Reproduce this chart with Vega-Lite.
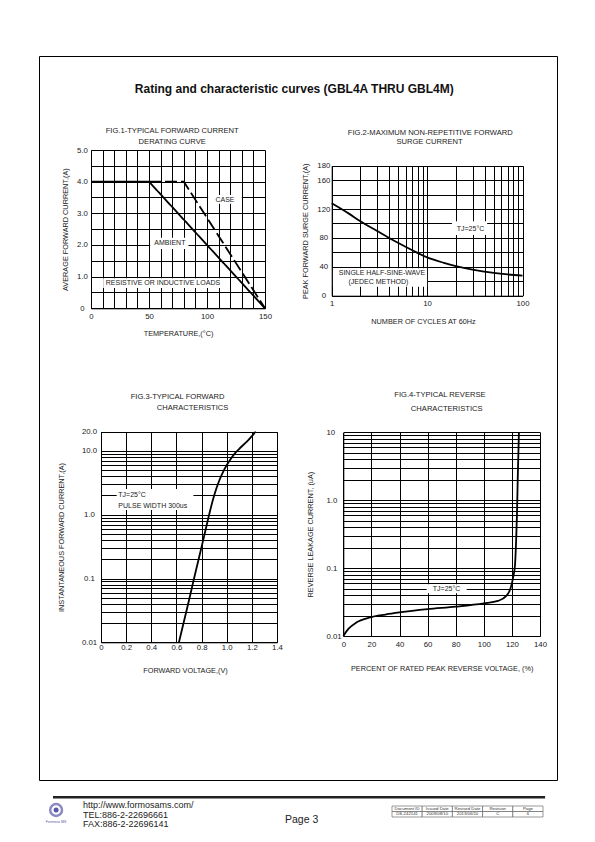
{
  "$schema": "https://vega.github.io/schema/vega-lite/v6.json",
  "width": 518,
  "height": 724,
  "autosize": {"type": "none"},
  "padding": {"left": 39, "top": 56, "right": 38, "bottom": 62},
  "background": "white",
  "title": {"text": "Rating and characteristic curves (GBL4A THRU GBL4M)", "anchor": "middle", "frame": "group", "offset": -49, "baseline": "alphabetic", "dx": -3.7, "fontSize": 12, "fontWeight": "bold", "color": "#111"},
  "config": {
    "font": "Liberation Sans",
    "view": {"stroke": "black", "strokeWidth": 1},
    "axis": {
      "grid": true, "gridColor": "black", "gridOpacity": 1, "gridWidth": 1,
      "domain": true, "domainColor": "black", "domainWidth": 1,
      "ticks": false, "tickSize": 0,
      "labelFontSize": 7.8, "labelColor": "#222", "labelOverlap": false, "labelFlush": false, "labelBaseline": "middle", "labelFont": "Liberation Sans",
      "titleFontSize": 7.3, "titleFontWeight": "normal", "titleColor": "#222", "titleBaseline": "middle", "titleFont": "Liberation Sans", "titlePadding": 0
    },
    "text": {"font": "Liberation Sans"}
  },
  "datasets": {
    "p1Lines": [
      {"temp": 0, "current": 4, "curve": "AMBIENT"},
      {"temp": 50, "current": 4, "curve": "AMBIENT"},
      {"temp": 150, "current": 0, "curve": "AMBIENT"},
      {"temp": 50, "current": 4, "curve": "CASE"},
      {"temp": 80, "current": 4, "curve": "CASE"},
      {"temp": 150, "current": 0, "curve": "CASE"}
    ],
    "p1Boxes": [
      {"temp": 101, "temp2": 130, "current": 3.3, "current2": 3.58},
      {"temp": 51, "temp2": 84, "current": 1.87, "current2": 2.23},
      {"temp": 10.5, "temp2": 113, "current": 0.64, "current2": 0.95}
    ],
    "p1Notes": [
      {"temp": 115.5, "current": 3.43, "text": "CASE"},
      {"temp": 68, "current": 2.05, "text": "AMBIENT"},
      {"temp": 62, "current": 0.79, "text": "RESISTIVE OR INDUCTIVE LOADS"}
    ],
    "p1Titles": [
      {"temp": 70, "current": 5.6, "text": "FIG.1-TYPICAL FORWARD CURRENT"},
      {"temp": 70, "current": 5.26, "text": "DERATING CURVE"}
    ],
    "p2Curve": [
      {"cycles": 1, "amps": 128},
      {"cycles": 1.5, "amps": 114},
      {"cycles": 2, "amps": 103},
      {"cycles": 3, "amps": 89.5},
      {"cycles": 4, "amps": 80},
      {"cycles": 5, "amps": 73},
      {"cycles": 7, "amps": 63},
      {"cycles": 10, "amps": 53},
      {"cycles": 15, "amps": 45.5},
      {"cycles": 20, "amps": 41},
      {"cycles": 30, "amps": 36},
      {"cycles": 50, "amps": 31.5},
      {"cycles": 70, "amps": 29.4},
      {"cycles": 100, "amps": 27.7}
    ],
    "p2Boxes": [
      {"cycles": 18.2, "cycles2": 42.6, "amps": 84, "amps2": 103},
      {"cycles": 1.03, "cycles2": 10, "amps": 12.5, "amps2": 38}
    ],
    "p2Notes": [
      {"cycles": 28.5, "amps": 92.5, "text": "TJ=25°C"},
      {"cycles": 3.36, "amps": 31.9, "text": "SINGLE HALF-SINE-WAVE"},
      {"cycles": 3.09, "amps": 19.4, "text": "(JEDEC METHOD)"}
    ],
    "p2Titles": [
      {"cycles": 10.8, "amps": 225.3, "text": "FIG.2-MAXIMUM NON-REPETITIVE FORWARD"},
      {"cycles": 10.6, "amps": 213.5, "text": "SURGE CURRENT"}
    ],
    "p3Curve": [
      {"volts": 0.62, "amps": 0.01},
      {"volts": 0.66, "amps": 0.0214},
      {"volts": 0.7, "amps": 0.0457},
      {"volts": 0.74, "amps": 0.1},
      {"volts": 0.78, "amps": 0.214},
      {"volts": 0.82, "amps": 0.457},
      {"volts": 0.86, "amps": 1.0},
      {"volts": 0.9, "amps": 2.0},
      {"volts": 0.94, "amps": 3.4},
      {"volts": 0.98, "amps": 5.1},
      {"volts": 1.02, "amps": 6.9},
      {"volts": 1.06, "amps": 8.9},
      {"volts": 1.1, "amps": 10.8},
      {"volts": 1.16, "amps": 14},
      {"volts": 1.23, "amps": 20}
    ],
    "p3Boxes": [
      {"volts": 0.125, "volts2": 0.735, "amps": 1.19, "amps2": 2.53}
    ],
    "p3Notes": [
      {"volts": 0.138, "amps": 2.04, "text": "TJ=25°C"},
      {"volts": 0.138, "amps": 1.39, "text": "PULSE WIDTH 300us"}
    ],
    "p3Titles": [
      {"volts": 0.609, "amps": 69.2, "text": "FIG.3-TYPICAL FORWARD"},
      {"volts": 0.728, "amps": 46.5, "text": "CHARACTERISTICS"}
    ],
    "p4Curve": [
      {"percent": 0, "microamps": 0.01},
      {"percent": 3.6, "microamps": 0.0127},
      {"percent": 9.5, "microamps": 0.0159},
      {"percent": 19, "microamps": 0.0188},
      {"percent": 30, "microamps": 0.0207},
      {"percent": 40, "microamps": 0.0222},
      {"percent": 60, "microamps": 0.0248},
      {"percent": 80, "microamps": 0.027},
      {"percent": 100, "microamps": 0.0302},
      {"percent": 110, "microamps": 0.0328},
      {"percent": 116, "microamps": 0.039},
      {"percent": 119, "microamps": 0.05},
      {"percent": 121, "microamps": 0.075},
      {"percent": 122.2, "microamps": 0.11},
      {"percent": 123, "microamps": 0.25},
      {"percent": 123.6, "microamps": 0.6},
      {"percent": 124.2, "microamps": 2.3},
      {"percent": 125, "microamps": 10}
    ],
    "p4Boxes": [
      {"percent": 59.3, "percent2": 87.8, "microamps": 0.0425, "microamps2": 0.0577}
    ],
    "p4Notes": [
      {"percent": 73.5, "microamps": 0.05, "text": "TJ=25°C"}
    ],
    "p4Titles": [
      {"percent": 68.8, "microamps": 35.4, "text": "FIG.4-TYPICAL REVERSE"},
      {"percent": 73.6, "microamps": 21.8, "text": "CHARACTERISTICS"}
    ],
    "footerRule": [{"col": 2.7, "col2": 97.7, "row": -0.82}],
    "contact": [
      {"col": 8.5, "row": 0, "text": "http://www.formosams.com/"},
      {"col": 8.5, "row": 1, "text": "TEL:886-2-22696661"},
      {"col": 8.5, "row": 2, "text": "FAX:886-2-22696141"}
    ],
    "pageNumber": [{"col": 50.7, "row": 1.58, "text": "Page 3"}],
    "logo": [{"col": 3.3, "row": 0.53}],
    "logoText": [{"col": 3.3, "row": 1.8, "text": "Formosa MS"}],
    "docTable": [
      {"cell": "Document ID", "part": "label", "text": "Document ID"},
      {"cell": "Issued Date", "part": "label", "text": "Issued Date"},
      {"cell": "Revised Date", "part": "label", "text": "Revised Date"},
      {"cell": "Revision", "part": "label", "text": "Revision"},
      {"cell": "Page", "part": "label", "text": "Page"},
      {"cell": "Document ID", "part": "value", "text": "DS-242141"},
      {"cell": "Issued Date", "part": "value", "text": "2009/08/10"},
      {"cell": "Revised Date", "part": "value", "text": "2013/06/10"},
      {"cell": "Revision", "part": "value", "text": "C"},
      {"cell": "Page", "part": "value", "text": "6"}
    ]
  },
  "resolve": {"scale": {"x": "independent", "y": "independent"}},
  "layer": [
    {
      "encoding": {
        "x": {"field": "temp", "type": "quantitative",
          "scale": {"domain": [0, 150], "range": [52, 226], "nice": false, "zero": false},
          "axis": {"orient": "top", "offset": -252.3, "grid": true, "values": [0, 10, 20, 30, 40, 50, 60, 70, 80, 90, 100, 110, 120, 130, 140, 150],
            "labelExpr": "datum.value % 50 == 0 ? datum.label : ''", "labelPadding": -8,
            "title": "TEMPERATURE,(°C)", "titleY": 24.7}},
        "y": {"field": "current", "type": "quantitative",
          "scale": {"domain": [0, 5], "range": [252.3, 94], "nice": false, "zero": false},
          "axis": {"orient": "left", "offset": -52, "grid": true, "values": [0, 0.5, 1, 1.5, 2, 2.5, 3, 3.5, 4, 4.5, 5],
            "labelExpr": "datum.value == 0 ? '0' : (datum.value % 1 == 0 ? format(datum.value, '.1f') : '')", "labelPadding": 9, "labelAlign": "center",
            "title": "AVERAGE FORWARD CURRENT,(A)", "titleX": -26}}
      },
      "layer": [
        {"data": {"name": "p1Boxes"}, "mark": {"type": "rect", "fill": "white"},
          "encoding": {"x2": {"field": "temp2"}, "y2": {"field": "current2"}}},
        {"data": {"name": "p1Lines"}, "mark": {"type": "line", "color": "black", "strokeWidth": 1.8},
          "encoding": {"strokeDash": {"field": "curve", "type": "nominal", "scale": {"domain": ["AMBIENT", "CASE"], "range": [[1, 0], [12, 4]]}, "legend": null}}},
        {"data": {"name": "p1Notes"}, "mark": {"type": "text", "fontSize": 7, "color": "#222"},
          "encoding": {"text": {"field": "text"}}},
        {"data": {"name": "p1Titles"}, "mark": {"type": "text", "fontSize": 7.6, "color": "#222"},
          "encoding": {"text": {"field": "text"}}}
      ]
    },
    {
      "encoding": {
        "x": {"field": "cycles", "type": "quantitative",
          "scale": {"type": "log", "domain": [1, 100], "range": [292.7, 483.5], "nice": false},
          "axis": {"orient": "top", "offset": -239.7, "grid": true, "values": [1, 2, 3, 4, 5, 6, 7, 8, 9, 10, 20, 30, 40, 50, 60, 70, 80, 90, 100],
            "labelExpr": "(datum.value == 1 || datum.value == 10 || datum.value == 100) ? format(datum.value, 'd') : ''", "labelPadding": -7.6,
            "title": "NUMBER OF CYCLES AT 60Hz", "titleY": 26, "titleX": 384}},
        "y": {"field": "amps", "type": "quantitative",
          "scale": {"domain": [0, 180], "range": [239.7, 109.7], "nice": false, "zero": false},
          "axis": {"orient": "left", "offset": -292.7, "grid": true, "values": [0, 20, 40, 60, 80, 100, 120, 140, 160, 180],
            "labelExpr": "(datum.value % 40 == 0 || datum.value == 180) ? format(datum.value, 'd') : ''", "labelPadding": 8.4, "labelAlign": "center",
            "title": "PEAK FORWARD SURGE CURRENT,(A)", "titleX": -26.7}}
      },
      "layer": [
        {"data": {"name": "p2Boxes"}, "mark": {"type": "rect", "fill": "white"},
          "encoding": {"x2": {"field": "cycles2"}, "y2": {"field": "amps2"}}},
        {"data": {"name": "p2Curve"}, "mark": {"type": "line", "color": "black", "strokeWidth": 1.8, "interpolate": "monotone"}},
        {"data": {"name": "p2Notes"}, "mark": {"type": "text", "fontSize": 7, "color": "#222"},
          "encoding": {"text": {"field": "text"}}},
        {"data": {"name": "p2Titles"}, "mark": {"type": "text", "fontSize": 7.6, "color": "#222"},
          "encoding": {"text": {"field": "text"}}}
      ]
    },
    {
      "encoding": {
        "x": {"field": "volts", "type": "quantitative",
          "scale": {"domain": [0, 1.4], "range": [62, 238], "nice": false, "zero": false},
          "axis": {"orient": "top", "offset": -586.3, "grid": true, "values": [0, 0.2, 0.4, 0.6, 0.8, 1, 1.2, 1.4],
            "labelExpr": "datum.value == 0 ? '0' : format(datum.value, '.1f')", "labelPadding": -5,
            "title": "FORWARD VOLTAGE,(V)", "titleY": 27.7, "titleX": 146}},
        "y": {"field": "amps", "type": "quantitative",
          "scale": {"type": "log", "domain": [0.01, 20], "range": [586.3, 375.7], "nice": false},
          "axis": {"orient": "left", "offset": -62, "grid": true,
            "values": [0.01, 0.02, 0.03, 0.04, 0.05, 0.06, 0.07, 0.08, 0.09, 0.1, 0.2, 0.3, 0.4, 0.5, 0.6, 0.7, 0.8, 0.9, 1, 2, 3, 4, 5, 6, 7, 8, 9, 10, 20],
            "labelExpr": "datum.value == 20 ? '20.0' : datum.value == 10 ? '10.0' : datum.value == 1 ? '1.0' : datum.value == 0.1 ? '0.1' : datum.value == 0.01 ? '0.01' : ''",
            "labelPadding": 12, "labelAlign": "center",
            "title": "INSTANTANEOUS FORWARD CURRENT,(A)", "titleX": -39.3}}
      },
      "layer": [
        {"data": {"name": "p3Boxes"}, "mark": {"type": "rect", "fill": "white"},
          "encoding": {"x2": {"field": "volts2"}, "y2": {"field": "amps2"}}},
        {"data": {"name": "p3Curve"}, "mark": {"type": "line", "color": "black", "strokeWidth": 1.8, "interpolate": "monotone"}},
        {"data": {"name": "p3Notes"}, "mark": {"type": "text", "fontSize": 7, "color": "#222", "align": "left"},
          "encoding": {"text": {"field": "text"}}},
        {"data": {"name": "p3Titles"}, "mark": {"type": "text", "fontSize": 7.6, "color": "#222"},
          "encoding": {"text": {"field": "text"}}}
      ]
    },
    {
      "encoding": {
        "x": {"field": "percent", "type": "quantitative",
          "scale": {"domain": [0, 140], "range": [304.3, 501], "nice": false, "zero": false},
          "axis": {"orient": "top", "offset": -580, "grid": true, "values": [0, 20, 40, 60, 80, 100, 120, 140],
            "labelExpr": "format(datum.value, 'd')", "labelPadding": -8,
            "title": "PERCENT OF RATED PEAK REVERSE VOLTAGE, (%)", "titleY": 32.7}},
        "y": {"field": "microamps", "type": "quantitative",
          "scale": {"type": "log", "domain": [0.01, 10], "range": [580, 376.3], "nice": false},
          "axis": {"orient": "left", "offset": -304.3, "grid": true,
            "values": [0.01, 0.02, 0.03, 0.04, 0.05, 0.06, 0.07, 0.08, 0.09, 0.1, 0.2, 0.3, 0.4, 0.5, 0.6, 0.7, 0.8, 0.9, 1, 2, 3, 4, 5, 6, 7, 8, 9, 10],
            "labelExpr": "datum.value == 10 ? '10' : datum.value == 1 ? '1.0' : datum.value == 0.1 ? '0.1' : datum.value == 0.01 ? '0.01' : ''",
            "labelPadding": 17.3, "labelAlign": "left",
            "title": "REVERSE LEAKAGE CURRENT, (uA)", "titleX": -33.3}}
      },
      "layer": [
        {"data": {"name": "p4Boxes"}, "mark": {"type": "rect", "fill": "white"},
          "encoding": {"x2": {"field": "percent2"}, "y2": {"field": "microamps2"}}},
        {"data": {"name": "p4Curve"}, "mark": {"type": "line", "color": "black", "strokeWidth": 1.8, "interpolate": "monotone"}},
        {"data": {"name": "p4Notes"}, "mark": {"type": "text", "fontSize": 7, "color": "#222"},
          "encoding": {"text": {"field": "text"}}},
        {"data": {"name": "p4Titles"}, "mark": {"type": "text", "fontSize": 7.6, "color": "#222"},
          "encoding": {"text": {"field": "text"}}}
      ]
    },
    {
      "encoding": {
        "x": {"field": "col", "type": "quantitative", "scale": {"domain": [0, 100], "range": [0, 518], "nice": false, "zero": false}, "axis": null},
        "y": {"field": "row", "type": "quantitative", "scale": {"domain": [0, 2], "range": [749, 768], "nice": false, "zero": false}, "axis": null}
      },
      "layer": [
        {"data": {"name": "footerRule"}, "mark": {"type": "rule", "color": "#222", "strokeWidth": 2.5},
          "encoding": {"x2": {"field": "col2"}}},
        {"data": {"name": "contact"}, "mark": {"type": "text", "align": "left", "fontSize": 9, "color": "#222"},
          "encoding": {"text": {"field": "text"}}},
        {"data": {"name": "pageNumber"}, "mark": {"type": "text", "fontSize": 10.5, "color": "#222"},
          "encoding": {"text": {"field": "text"}}},
        {"data": {"name": "logo"}, "mark": {"type": "point", "shape": "circle", "size": 140, "filled": false, "stroke": "#5a58a8", "strokeWidth": 2.5}},
        {"data": {"name": "logo"}, "mark": {"type": "point", "shape": "circle", "size": 25, "filled": true, "fill": "#5a58a8", "opacity": 1}},
        {"data": {"name": "logoText"}, "mark": {"type": "text", "fontSize": 3.6, "color": "#5a58a8"},
          "encoding": {"text": {"field": "text"}}}
      ]
    },
    {
      "data": {"name": "docTable"},
      "encoding": {
        "x": {"field": "cell", "type": "nominal", "sort": null,
          "scale": {"type": "band", "domain": ["Document ID", "Issued Date", "Revised Date", "Revision", "Page"], "range": [353, 504], "paddingInner": 0, "paddingOuter": 0}, "axis": null},
        "y": {"field": "part", "type": "nominal", "sort": null,
          "scale": {"type": "band", "domain": ["label", "value"], "range": [750, 761], "paddingInner": 0, "paddingOuter": 0}, "axis": null}
      },
      "layer": [
        {"mark": {"type": "rect", "fill": "white", "stroke": "#555", "strokeWidth": 0.6}},
        {"mark": {"type": "text", "fontSize": 4.3, "color": "#333"}, "encoding": {"text": {"field": "text"}}}
      ]
    }
  ]
}
